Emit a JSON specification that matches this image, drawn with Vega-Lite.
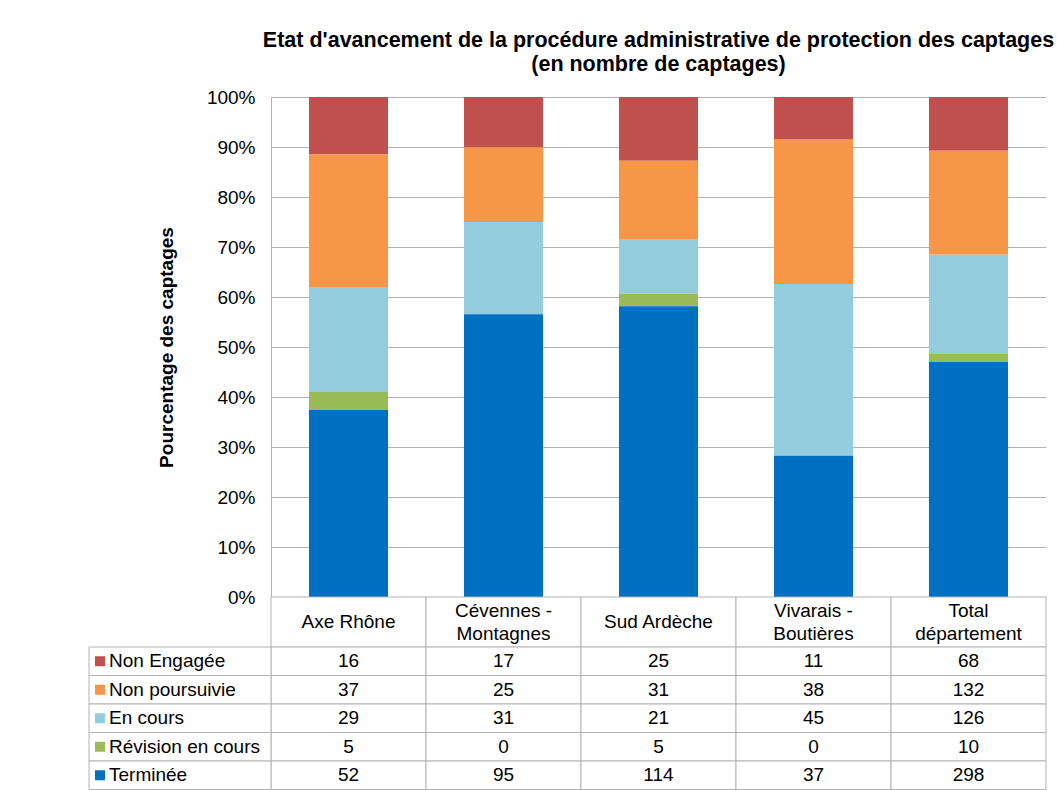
{
  "$schema": "https://vega.github.io/schema/vega-lite/v6.json",
  "padding": {"left": 88, "top": 29, "right": 0, "bottom": 0},
  "background": "white",
  "bounds": "flush",
  "spacing": 0,
  "title": {
    "text": ["Etat d'avancement de la procédure administrative de protection des captages", "(en nombre de captages)"],
    "fontSize": 21.5,
    "fontWeight": "bold",
    "lineHeight": 24,
    "anchor": "middle",
    "frame": "group",
    "offset": 13,
    "color": "black"
  },
  "datasets": {
    "cells": [
      {"region": "Axe Rhône", "series": "Non Engagée", "rank": 5, "value": 16},
      {"region": "Axe Rhône", "series": "Non poursuivie", "rank": 4, "value": 37},
      {"region": "Axe Rhône", "series": "En cours", "rank": 3, "value": 29},
      {"region": "Axe Rhône", "series": "Révision en cours", "rank": 2, "value": 5},
      {"region": "Axe Rhône", "series": "Terminée", "rank": 1, "value": 52},
      {"region": "Cévennes - Montagnes", "series": "Non Engagée", "rank": 5, "value": 17},
      {"region": "Cévennes - Montagnes", "series": "Non poursuivie", "rank": 4, "value": 25},
      {"region": "Cévennes - Montagnes", "series": "En cours", "rank": 3, "value": 31},
      {"region": "Cévennes - Montagnes", "series": "Révision en cours", "rank": 2, "value": 0},
      {"region": "Cévennes - Montagnes", "series": "Terminée", "rank": 1, "value": 95},
      {"region": "Sud Ardèche", "series": "Non Engagée", "rank": 5, "value": 25},
      {"region": "Sud Ardèche", "series": "Non poursuivie", "rank": 4, "value": 31},
      {"region": "Sud Ardèche", "series": "En cours", "rank": 3, "value": 21},
      {"region": "Sud Ardèche", "series": "Révision en cours", "rank": 2, "value": 5},
      {"region": "Sud Ardèche", "series": "Terminée", "rank": 1, "value": 114},
      {"region": "Vivarais - Boutières", "series": "Non Engagée", "rank": 5, "value": 11},
      {"region": "Vivarais - Boutières", "series": "Non poursuivie", "rank": 4, "value": 38},
      {"region": "Vivarais - Boutières", "series": "En cours", "rank": 3, "value": 45},
      {"region": "Vivarais - Boutières", "series": "Révision en cours", "rank": 2, "value": 0},
      {"region": "Vivarais - Boutières", "series": "Terminée", "rank": 1, "value": 37},
      {"region": "Total département", "series": "Non Engagée", "rank": 5, "value": 68},
      {"region": "Total département", "series": "Non poursuivie", "rank": 4, "value": 132},
      {"region": "Total département", "series": "En cours", "rank": 3, "value": 126},
      {"region": "Total département", "series": "Révision en cours", "rank": 2, "value": 10},
      {"region": "Total département", "series": "Terminée", "rank": 1, "value": 298}
    ],
    "regions": [
      {"region": "Axe Rhône", "label": "Axe Rhône"},
      {"region": "Cévennes - Montagnes", "label": "Cévennes -\nMontagnes"},
      {"region": "Sud Ardèche", "label": "Sud Ardèche"},
      {"region": "Vivarais - Boutières", "label": "Vivarais -\nBoutières"},
      {"region": "Total département", "label": "Total\ndépartement"}
    ],
    "series": [
      {"series": "Non Engagée"},
      {"series": "Non poursuivie"},
      {"series": "En cours"},
      {"series": "Révision en cours"},
      {"series": "Terminée"}
    ]
  },
  "resolve": {"scale": {"x": "independent", "y": "independent", "color": "independent"}},
  "vconcat": [
    {
      "width": 775,
      "height": 500,
      "data": {"name": "cells"},
      "mark": {"type": "bar"},
      "encoding": {
        "x": {
          "field": "region", "type": "nominal",
          "sort": ["Axe Rhône", "Cévennes - Montagnes", "Sud Ardèche", "Vivarais - Boutières", "Total département"],
          "scale": {"paddingInner": 0.49, "paddingOuter": 0.245},
          "axis": null
        },
        "y": {
          "field": "value", "type": "quantitative", "stack": "normalize",
          "scale": {"domain": [0, 1]},
          "axis": {
            "title": "Pourcentage des captages",
            "format": ".0%",
            "values": [0, 0.1, 0.2, 0.3, 0.4, 0.5, 0.6, 0.7, 0.8, 0.9, 1],
            "grid": true, "gridColor": "#b3b3b3", "gridWidth": 1,
            "domain": true, "domainColor": "#b3b3b3",
            "ticks": false,
            "labelPadding": 16, "labelFontSize": 19, "labelColor": "black",
            "titleFontSize": 19, "titleFontWeight": "bold", "titleColor": "black", "titlePadding": 30
          }
        },
        "order": {"field": "rank", "type": "quantitative", "sort": "ascending"},
        "color": {
          "field": "series", "type": "nominal",
          "scale": {
            "domain": ["Terminée", "Révision en cours", "En cours", "Non poursuivie", "Non Engagée"],
            "range": ["#0070C0", "#9BBB59", "#93CDDD", "#F79646", "#C0504D"]
          },
          "legend": null
        }
      }
    },
    {
      "width": 775,
      "height": 50,
      "data": {"name": "regions"},
      "encoding": {
        "x": {
          "field": "region", "type": "nominal",
          "sort": ["Axe Rhône", "Cévennes - Montagnes", "Sud Ardèche", "Vivarais - Boutières", "Total département"],
          "scale": {"paddingInner": 0, "paddingOuter": 0},
          "axis": null
        }
      },
      "layer": [
        {"mark": {"type": "rect", "fill": "white", "stroke": "#b3b3b3", "strokeWidth": 1}},
        {
          "transform": [{"filter": "indexof(datum.label, '\\n') < 0"}],
          "mark": {"type": "text", "fontSize": 19, "color": "black"},
          "encoding": {"text": {"field": "label"}}
        },
        {
          "transform": [{"filter": "indexof(datum.label, '\\n') >= 0"}],
          "mark": {"type": "text", "fontSize": 19, "lineBreak": "\n", "lineHeight": 23, "dy": -11.5, "color": "black"},
          "encoding": {"text": {"field": "label"}}
        }
      ]
    },
    {
      "width": 775,
      "height": 142.5,
      "resolve": {"scale": {"x": "independent"}},
      "layer": [
        {
          "data": {"name": "cells"},
          "mark": {"type": "rect", "fill": "white", "stroke": "#b3b3b3", "strokeWidth": 1},
          "encoding": {
            "x": {"field": "region", "type": "nominal",
              "sort": ["Axe Rhône", "Cévennes - Montagnes", "Sud Ardèche", "Vivarais - Boutières", "Total département"],
              "scale": {"paddingInner": 0, "paddingOuter": 0}, "axis": null},
            "y": {"field": "series", "type": "nominal",
              "sort": ["Non Engagée", "Non poursuivie", "En cours", "Révision en cours", "Terminée"],
              "scale": {"paddingInner": 0, "paddingOuter": 0}, "axis": null}
          }
        },
        {
          "data": {"name": "cells"},
          "mark": {"type": "text", "fontSize": 19, "color": "black"},
          "encoding": {
            "x": {"field": "region", "type": "nominal",
              "sort": ["Axe Rhône", "Cévennes - Montagnes", "Sud Ardèche", "Vivarais - Boutières", "Total département"],
              "scale": {"paddingInner": 0, "paddingOuter": 0}, "axis": null},
            "y": {"field": "series", "type": "nominal",
              "sort": ["Non Engagée", "Non poursuivie", "En cours", "Révision en cours", "Terminée"],
              "scale": {"paddingInner": 0, "paddingOuter": 0}, "axis": null},
            "text": {"field": "value", "type": "quantitative"}
          }
        },
        {
          "data": {"name": "series"},
          "mark": {"type": "rect", "fill": "white", "stroke": "#b3b3b3", "strokeWidth": 1},
          "encoding": {
            "x": {"datum": "légende", "type": "nominal",
              "scale": {"range": [-182, 0], "paddingInner": 0, "paddingOuter": 0}, "axis": null},
            "y": {"field": "series", "type": "nominal",
              "sort": ["Non Engagée", "Non poursuivie", "En cours", "Révision en cours", "Terminée"],
              "scale": {"paddingInner": 0, "paddingOuter": 0}, "axis": null}
          }
        },
        {
          "data": {"name": "series"},
          "mark": {"type": "point", "shape": "square", "filled": true, "size": 100, "opacity": 1},
          "encoding": {
            "x": {"datum": "légende", "type": "nominal",
              "scale": {"range": [-176, -166], "paddingInner": 0, "paddingOuter": 0}, "axis": null},
            "y": {"field": "series", "type": "nominal",
              "sort": ["Non Engagée", "Non poursuivie", "En cours", "Révision en cours", "Terminée"],
              "scale": {"paddingInner": 0, "paddingOuter": 0}, "axis": null},
            "color": {
              "field": "series", "type": "nominal",
              "scale": {
                "domain": ["Terminée", "Révision en cours", "En cours", "Non poursuivie", "Non Engagée"],
                "range": ["#0070C0", "#9BBB59", "#93CDDD", "#F79646", "#C0504D"]
              },
              "legend": null
            }
          }
        },
        {
          "data": {"name": "series"},
          "mark": {"type": "text", "fontSize": 19, "align": "left", "color": "black"},
          "encoding": {
            "x": {"datum": "légende", "type": "nominal",
              "scale": {"range": [-167, -157], "paddingInner": 0, "paddingOuter": 0}, "axis": null},
            "y": {"field": "series", "type": "nominal",
              "sort": ["Non Engagée", "Non poursuivie", "En cours", "Révision en cours", "Terminée"],
              "scale": {"paddingInner": 0, "paddingOuter": 0}, "axis": null},
            "text": {"field": "series"}
          }
        }
      ]
    }
  ],
  "config": {
    "font": "Liberation Sans",
    "view": {"stroke": null}
  }
}
